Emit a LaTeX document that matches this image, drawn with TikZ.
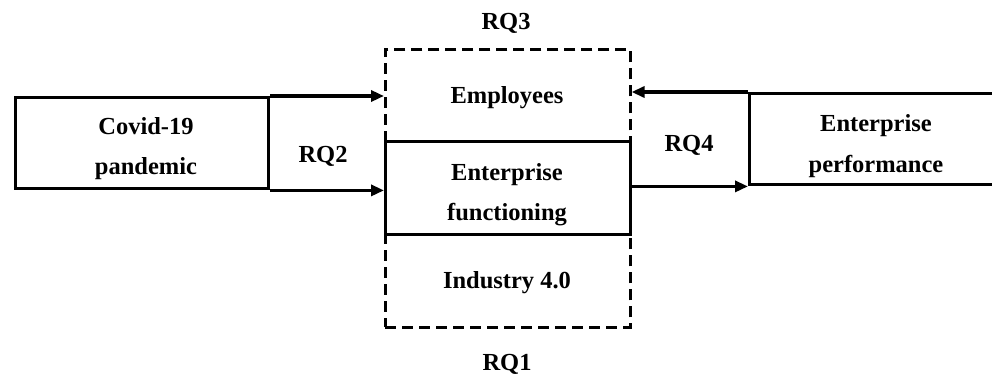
\documentclass[tikz,border=0pt]{standalone}
\usepackage{fontspec}
\setmainfont{Liberation Serif}
\usetikzlibrary{arrows.meta}
\begin{document}
\begin{tikzpicture}[x=1pt,y=-1pt,
  solid box/.style={draw, line width=3.4pt, rectangle, inner sep=0pt, anchor=north west},
  frame box/.style={draw, line width=2.6pt, dash pattern=on 11pt off 6pt, rectangle, inner sep=0pt, anchor=north west},
  lbl/.style={font=\fontsize{24.5}{24.5}\selectfont\bfseries, anchor=base, inner sep=0pt},
  arr/.style={line width=3.4pt, -{Triangle[length=13pt,width=11pt]}}]
\useasboundingbox (0,0) rectangle (992,374);
% boxes
\node[frame box, minimum width=245pt, minimum height=278pt] (frame) at (384,48) {};
\node[solid box, fill=white, minimum width=245pt, minimum height=93pt] (func) at (384,140) {};
\node[solid box, minimum width=253pt, minimum height=91pt] (covid) at (14,96) {};
\node[solid box, minimum width=270pt, minimum height=91pt] (perf) at (748,92) {};
% connectors
\coordinate (inTop) at (frame.west |- covid.north east);
\coordinate (inBot) at (func.west |- covid.south east);
\coordinate (outTop) at (frame.east |- perf.north west);
\coordinate (outBot) at (func.east |- perf.south west);
\draw[arr] (covid.north east) -- (inTop);
\draw[arr] (covid.south east) -- (inBot);
\draw[arr] (perf.north west) -- (outTop);
\draw[arr] (outBot) -- (perf.south west);
% labels
\node[lbl] (rq3) at (506,30) {RQ3};
\node[lbl] (rq1) at (507,370) {RQ1};
\node[lbl] (emp) at (507,104) {Employees};
\node[lbl] (ent1) at (507,180) {Enterprise};
\node[lbl] (ent2) at (507,220) {functioning};
\node[lbl] (ind) at (507,288) {Industry 4.0};
\node[lbl] (cov1) at (146,135) {Covid-19};
\node[lbl] (cov2) at (146,175) {pandemic};
\node[lbl] (rq2) at (323,163) {RQ2};
\node[lbl] (rq4) at (689,152) {RQ4};
\node[lbl] (perf1) at (876,132) {Enterprise};
\node[lbl] (perf2) at (876,172) {performance};
\end{tikzpicture}
\end{document}
